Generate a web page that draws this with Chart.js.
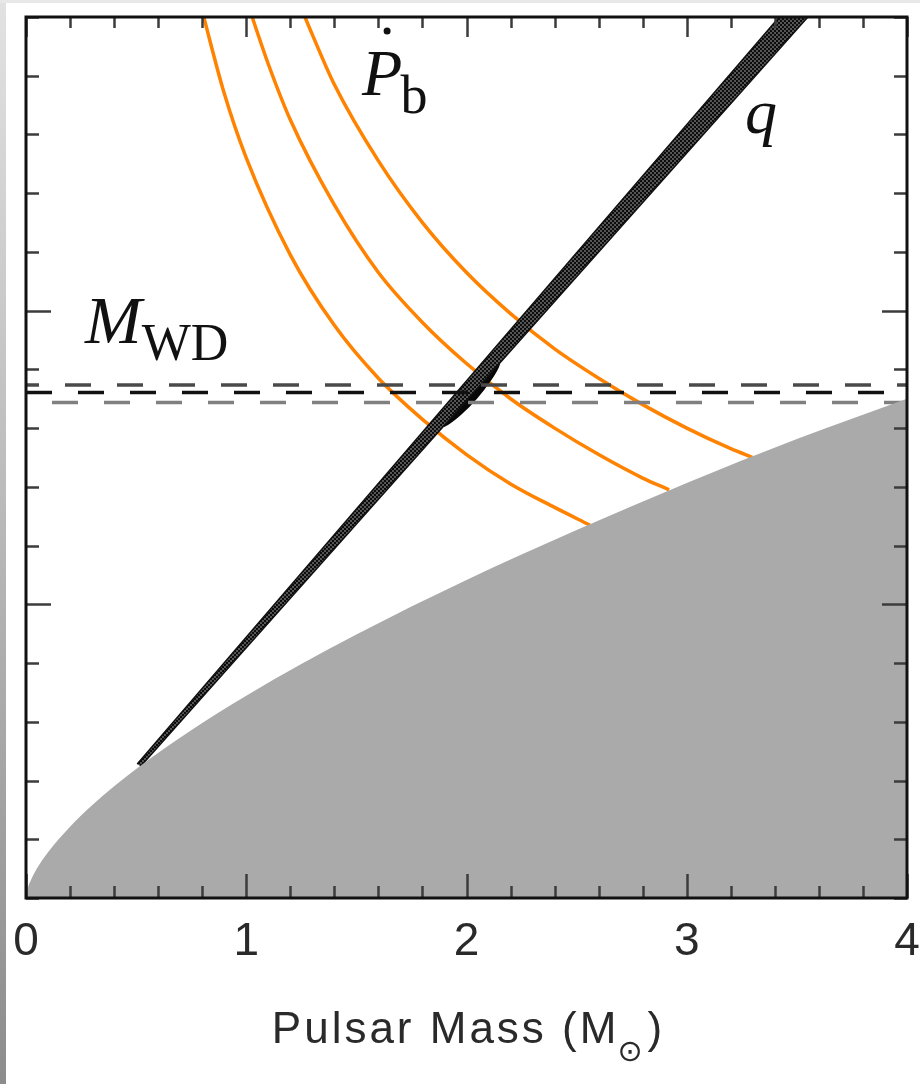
<!DOCTYPE html>
<html>
<head>
<meta charset="utf-8">
<script src="https://cdn.jsdelivr.net/npm/chart.js@4.4.1/dist/chart.umd.min.js"></script>
<style>
  html, body { margin: 0; padding: 0; background: #fff; }
  #wrap { position: relative; width: 920px; height: 1084px; }
  #edge { position: absolute; left: 0; top: 0; width: 6px; height: 1084px;
          background: linear-gradient(#e2e2e2, #8c8c8c); }
  #topEdge { position: absolute; left: 0; top: 0; width: 920px; height: 3px; background: #e8e8e8; }
</style>
</head>
<body>
<div id="wrap">
  <canvas id="massChart" width="920" height="1084"></canvas>
  <div id="edge"></div>
  <div id="topEdge"></div>
</div>
<script>
// Pulsar mass vs companion mass constraints

// axis ticks
const xTickValues = [0, 1, 2, 3, 4];
const xTickLabels = ['0', '1', '2', '3', '4'];
const yMajorTicks = [0.1, 0.2];

// mass function limit (grey, excluded region below)
const mfMp = [0, 0.01, 0.02, 0.05, 0.10, 0.20, 0.30, 0.50, 0.75, 1.00, 1.50, 2.00, 2.50, 3.00, 3.50, 4.00];
const mfMc = [0, 0.0038, 0.0057, 0.0101, 0.0156, 0.0243, 0.0316, 0.0439, 0.0571, 0.0689, 0.0897, 0.1083, 0.1253, 0.1413, 0.1563, 0.1700];

// orbital decay (Pb dot) curves, central and +-1 sigma
const pbLowMp  = [0.80, 0.90, 1.00, 1.20, 1.40, 1.60, 1.80, 2.00, 2.20, 2.40, 2.56];
const pbLowMc  = [0.302, 0.274, 0.252, 0.219, 0.195, 0.177, 0.163, 0.151, 0.141, 0.133, 0.127];
const pbMidMp  = [1.00, 1.10, 1.20, 1.40, 1.60, 1.80, 2.00, 2.20, 2.40, 2.60, 2.80, 2.92];
const pbMidMc  = [0.306, 0.284, 0.265, 0.236, 0.213, 0.196, 0.182, 0.170, 0.160, 0.151, 0.143, 0.139];
const pbHighMp = [1.25, 1.30, 1.40, 1.60, 1.80, 2.00, 2.20, 2.40, 2.60, 2.80, 3.00, 3.20, 3.30];
const pbHighMc = [0.303, 0.294, 0.277, 0.251, 0.230, 0.213, 0.199, 0.187, 0.177, 0.168, 0.160, 0.153, 0.150];

// mass ratio q band (outline: left edge up, right edge down)
const qBandMp = [0.505, 3.42, 3.55, 0.52];
const qBandMc = [0.0456, 0.30, 0.30, 0.0448];

// joint constraint region
const jointMp = [2.150, 2.146, 2.108, 2.046, 1.976, 1.916, 1.884, 1.886, 1.925, 1.986, 2.056, 2.116];
const jointMc = [0.1840, 0.1812, 0.1763, 0.1703, 0.1649, 0.1614, 0.1607, 0.1634, 0.1683, 0.1743, 0.1797, 0.1833];

// white dwarf mass from spectroscopy
const mwdCentral = 0.1721;
const mwdUpper = 0.1747;
const mwdLower = 0.1687;

const toPoints = (xs, ys) => xs.map((v, i) => ({ x: v, y: ys[i] }));

function checkerPattern() {
    const c = document.createElement('canvas');
    c.width = 4; c.height = 4;
    const g = c.getContext('2d');
    g.fillStyle = '#555';
    g.fillRect(0, 0, 4, 4);
    g.fillStyle = '#0c0c0c';
    g.fillRect(0, 0, 2, 2);
    g.fillRect(2, 2, 2, 2);
    return g.createPattern(c, 'repeat');
}

const serif = '"Liberation Serif", "Times New Roman", serif';
const sans = '"Liberation Sans", Arial, sans-serif';

// ticks, frame, labels and annotations
const framePlugin = {
    id: 'frame',
    afterDraw(chart) {
        const { ctx, chartArea: a, scales: { x, y } } = chart;
        ctx.save();

        // inward ticks
        ctx.strokeStyle = '#3c3c3c';
        ctx.lineWidth = 2.5;
        for (let i = 0; i <= 20; i++) {
            const v = i * 0.2;
            const px = Math.round(x.getPixelForValue(v)) + 0.5;
            const major = i % 5 === 0;
            ctx.beginPath();
            ctx.moveTo(px, a.bottom); ctx.lineTo(px, a.bottom - (major ? 24 : 12));
            ctx.moveTo(px, a.top); ctx.lineTo(px, a.top + (major ? 20 : 11));
            ctx.stroke();
        }
        for (let i = 0; i <= 15; i++) {
            const v = i * 0.02;
            const py = Math.round(y.getPixelForValue(v)) + 0.5;
            const major = yMajorTicks.some(m => Math.abs(m - v) < 1e-6);
            ctx.beginPath();
            ctx.moveTo(a.left, py); ctx.lineTo(a.left + (major ? 25 : 13), py);
            ctx.moveTo(a.right, py); ctx.lineTo(a.right - (major ? 25 : 13), py);
            ctx.stroke();
        }

        // frame
        ctx.strokeStyle = '#111';
        ctx.lineWidth = 3;
        ctx.strokeRect(a.left, a.top, a.right - a.left, a.bottom - a.top);

        // x tick labels
        ctx.fillStyle = '#2a2a2a';
        ctx.font = '46px ' + sans;
        ctx.textAlign = 'center';
        ctx.textBaseline = 'alphabetic';
        xTickValues.forEach((v, i) => {
            ctx.fillText(xTickLabels[i], x.getPixelForValue(v), 955);
        });

        // axis title with subscript sun symbol
        ctx.textAlign = 'left';
        ctx.letterSpacing = '3px';
        ctx.font = '44px ' + sans;
        const main = 'Pulsar Mass (M';
        const wMain = ctx.measureText(main).width;
        ctx.font = '30px "DejaVu Sans", sans-serif';
        const wSun = ctx.measureText('\u2299').width;
        ctx.font = '44px ' + sans;
        const wClose = ctx.measureText(')').width;
        const cx = (a.left + a.right) / 2 + 2;
        let tx = cx - (wMain + wSun + wClose) / 2;
        ctx.fillStyle = '#2a2a2a';
        ctx.fillText(main, tx, 1043);
        tx += wMain;
        ctx.font = '30px "DejaVu Sans", sans-serif';
        ctx.fillText('\u2299', tx - 2, 1061);
        tx += wSun;
        ctx.font = '44px ' + sans;
        ctx.fillText(')', tx, 1043);
        ctx.letterSpacing = '0px';

        // annotations
        ctx.fillStyle = '#111';
        // Pb dot
        let px = x.getPixelForValue(1.526), py = y.getPixelForValue(0.2734);
        ctx.font = 'italic 66px ' + serif;
        ctx.fillText('P', px, py);
        const wP = ctx.measureText('P').width;
        ctx.beginPath();
        ctx.arc(px + wP * 0.62, py - 64, 3.5, 0, Math.PI * 2);
        ctx.fill();
        ctx.font = '54px ' + serif;
        ctx.fillText('b', px + wP - 2, py + 18);
        // q
        ctx.font = 'italic 64px ' + serif;
        ctx.fillText('q', x.getPixelForValue(3.264), y.getPixelForValue(0.2605));
        // M_WD
        px = x.getPixelForValue(0.268); py = y.getPixelForValue(0.189);
        ctx.font = 'italic 68px ' + serif;
        ctx.fillText('M', px, py);
        const wM = ctx.measureText('M').width;
        ctx.font = '52px ' + serif;
        ctx.fillText('WD', px + wM, py + 17);

        ctx.restore();
    }
};

const orange = '#ff8200';

new Chart(document.getElementById('massChart'), {
    type: 'line',
    data: {
        datasets: [
            {
                // excluded by mass function
                data: toPoints(mfMp, mfMc),
                borderWidth: 0,
                borderColor: 'rgba(0,0,0,0)',
                backgroundColor: '#aaaaaa',
                fill: 'origin',
                cubicInterpolationMode: 'monotone'
            },
            {
                data: toPoints([0, 4], [mwdUpper, mwdUpper]),
                borderColor: '#4a4a4a',
                borderWidth: 3.5,
                borderDash: [26, 26],
                borderDashOffset: 13,
                fill: false
            },
            {
                data: toPoints([0, 4], [mwdLower, mwdLower]),
                borderColor: '#808080',
                borderWidth: 3.5,
                borderDash: [26, 26],
                borderDashOffset: 26,
                fill: false
            },
            {
                data: toPoints([0, 4], [mwdCentral, mwdCentral]),
                borderColor: '#111',
                borderWidth: 3.5,
                borderDash: [26, 26],
                borderDashOffset: 0,
                fill: false
            },
            {
                // q band
                data: toPoints(qBandMp, qBandMc),
                borderColor: '#111',
                borderWidth: 1.5,
                backgroundColor: checkerPattern(),
                fill: 'shape',
                tension: 0
            },
            {
                data: toPoints(jointMp, jointMc),
                borderColor: '#050505',
                borderWidth: 1.5,
                backgroundColor: '#080808',
                fill: 'shape',
                tension: 0.4
            },
            {
                data: toPoints(pbLowMp, pbLowMc),
                borderColor: orange,
                borderWidth: 3.5,
                fill: false,
                cubicInterpolationMode: 'monotone'
            },
            {
                data: toPoints(pbMidMp, pbMidMc),
                borderColor: orange,
                borderWidth: 3.5,
                fill: false,
                cubicInterpolationMode: 'monotone'
            },
            {
                data: toPoints(pbHighMp, pbHighMc),
                borderColor: orange,
                borderWidth: 3.5,
                fill: false,
                cubicInterpolationMode: 'monotone'
            }
        ]
    },
    options: {
        responsive: false,
        animation: false,
        layout: { padding: { left: 26, top: 17, right: 13, bottom: 186 } },
        elements: { point: { radius: 0 } },
        plugins: { legend: { display: false }, tooltip: { enabled: false } },
        scales: {
            x: { type: 'linear', min: 0, max: 4, display: false },
            y: { type: 'linear', min: 0, max: 0.3, display: false }
        }
    },
    plugins: [framePlugin]
});
</script>
</body>
</html>
